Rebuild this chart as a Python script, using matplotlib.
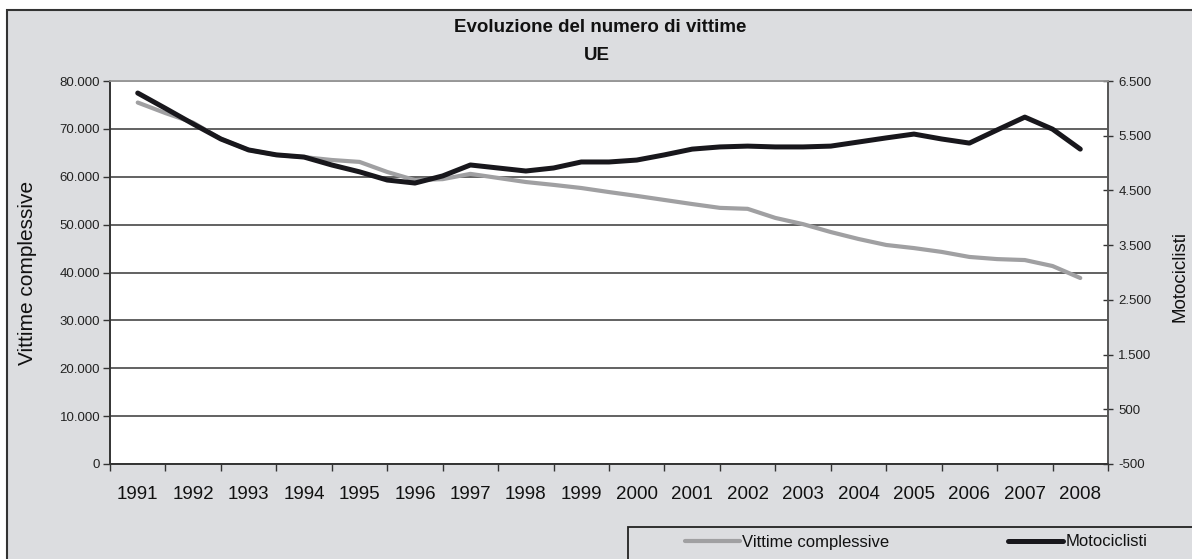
import matplotlib
matplotlib.use("Agg")
import matplotlib.pyplot as plt
from matplotlib.patches import Rectangle

plt.rcParams['font.family'] = ['Liberation Sans', 'DejaVu Sans']

years = [1991, 1992, 1993, 1994, 1995, 1996, 1997, 1998, 1999, 2000,
         2001, 2002, 2003, 2004, 2005, 2006, 2007, 2008]
year_labels = [str(y) for y in years]

# sampling positions (half-year steps)
x_pos = [1991.0, 1991.5, 1992.0, 1992.5, 1993.0, 1993.5, 1994.0, 1994.5,
         1995.0, 1995.5, 1996.0, 1996.5, 1997.0, 1997.5, 1998.0, 1998.5,
         1999.0, 1999.5, 2000.0, 2000.5, 2001.0, 2001.5, 2002.0, 2002.5,
         2003.0, 2003.5, 2004.0, 2004.5, 2005.0, 2005.5, 2006.0, 2006.5,
         2007.0, 2007.5, 2008.0]

vittime = [75500, 73300, 71300, 67900, 65600, 64550, 64100, 63500,
           63100, 61000, 59300, 59500, 60600, 59750, 58900, 58300,
           57650, 56800, 56000, 55150, 54300, 53500, 53300, 51400,
           50100, 48450, 47000, 45750, 45100, 44300, 43250, 42800,
           42600, 41350, 38850]

motociclisti = [6280, 6000, 5715, 5440, 5240, 5150, 5110, 4965,
                4840, 4690, 4635, 4765, 4965, 4910, 4855, 4910,
                5020, 5020, 5055, 5150, 5255, 5295, 5310, 5295,
                5295, 5310, 5385, 5460, 5530, 5440, 5365, 5605,
                5840, 5620, 5255]

W, H = 1192, 559
fig = plt.figure(figsize=(W / 100, H / 100), dpi=100)
fig.patch.set_facecolor('white')

# outer chart background
fig.patches.append(Rectangle((7 / W, -0.01), 1.02 - 7 / W, 1.01 - 10 / H,
                             transform=fig.transFigure, facecolor='#dcdde0',
                             edgecolor='#333333', linewidth=1.5, zorder=-5))

ax = fig.add_axes([110 / W, (H - 464) / H, 998 / W, 383 / H])
ax.set_facecolor('white')
ax2 = ax.twinx()
ax.set_zorder(2)
ax2.set_zorder(3)
ax2.patch.set_visible(False)

gray = '#a0a0a2'
black = '#18171c'

l1, = ax.plot(x_pos, vittime, color=gray, lw=3.0, solid_capstyle='round',
              solid_joinstyle='round', label='Vittime complessive', zorder=3)
l2, = ax2.plot(x_pos, motociclisti, color=black, lw=3.6, solid_capstyle='round',
               solid_joinstyle='round', label='Motociclisti', zorder=4)

ax.set_xlim(1990.5, 2008.5)
ax.set_ylim(0, 80000)
ax2.set_ylim(-500, 6500)

ax.set_yticks(range(0, 80001, 10000))
ax.set_yticklabels(['0' if v == 0 else f'{v // 1000}.000' for v in range(0, 80001, 10000)])
r_ticks = list(range(-500, 6501, 1000))
ax2.set_yticks(r_ticks)
ax2.set_yticklabels([f'{v:,}'.replace(',', '.') for v in r_ticks])

ax.set_xticks([y - 0.5 for y in years] + [2008.5])
ax.set_xticklabels([])
ax.set_xticks(years, minor=True)
ax.set_xticklabels(year_labels, minor=True)
ax.tick_params(axis='x', which='major', length=5, width=1, color='#333333', direction='out')
ax.tick_params(axis='x', which='minor', length=0, labelsize=13.5, pad=16, labelcolor='#111111')
ax.tick_params(axis='y', length=5, width=1, color='#333333', direction='out',
               labelsize=9.5, labelcolor='#222222', pad=2)
ax2.tick_params(axis='y', length=7, width=1, color='#333333', direction='inout',
                labelsize=9.5, labelcolor='#222222', pad=4)

ax.grid(axis='y', color='#555555', lw=1.3, zorder=1)
ax.set_axisbelow(True)

for a in (ax, ax2):
    a.spines['top'].set_color('#999999')
    a.spines['top'].set_linewidth(1.2)
    a.spines['left'].set_color('#333333')
    a.spines['right'].set_color('#555555')
    a.spines['bottom'].set_color('#333333')
    a.spines['left'].set_linewidth(1.2)
    a.spines['right'].set_linewidth(1.2)
    a.spines['bottom'].set_linewidth(1.2)

ax.set_ylabel('Vittime complessive', fontsize=15, color='#111111')
ax.yaxis.set_label_coords((37 - 110) / 998, 0.5)
ax2.set_ylabel('Motociclisti', fontsize=13.5, color='#111111', rotation=90)
ax2.yaxis.set_label_coords((1172 - 110) / 998, 0.49)

fig.text(600 / W, 1 - 27 / H, 'Evoluzione del numero di vittime', ha='center',
         va='center', fontsize=13.5, fontweight='bold', color='#111111')
fig.text(597 / W, 1 - 55 / H, 'UE', ha='center', va='center', fontsize=13.5,
         fontweight='bold', color='#111111')

# legend frame
fig.patches.append(Rectangle((628 / W, -0.01), 1.02 - 628 / W, 0.01 + 32 / H,
                             transform=fig.transFigure, facecolor='#dcdde0',
                             edgecolor='#222222', linewidth=1.3, zorder=-4))
leg = fig.legend(handles=[l1, l2], loc='center left',
                 bbox_to_anchor=(685 / W, 1 - 542 / H), ncol=2, frameon=False,
                 fontsize=12, handlelength=3.3, handletextpad=0.15,
                 columnspacing=7.1, borderpad=0, borderaxespad=0)
for t in leg.get_texts():
    t.set_color('#111111')

fig.savefig('out.png', dpi=100, facecolor=fig.get_facecolor())
